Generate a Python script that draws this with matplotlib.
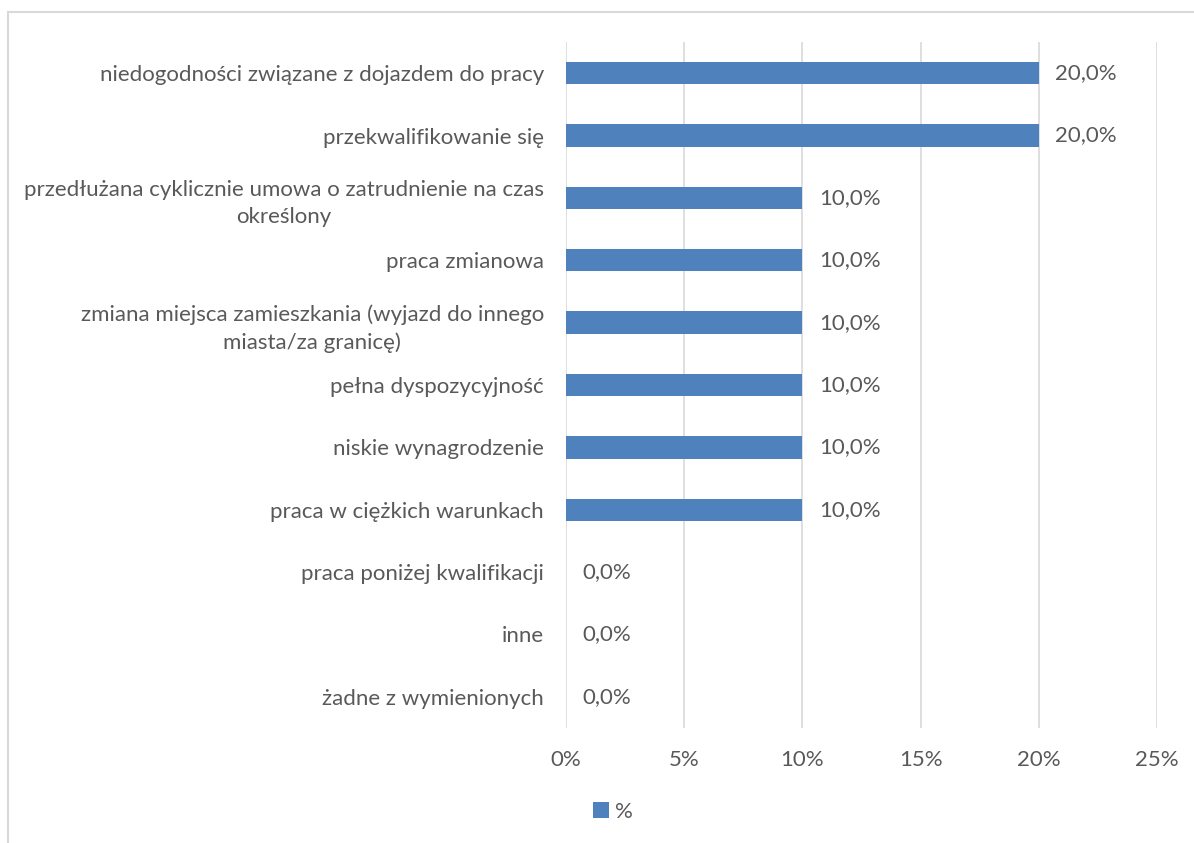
import matplotlib.pyplot as plt
from matplotlib.ticker import FuncFormatter
from matplotlib.patches import Rectangle

categories = [
    "niedogodności związane z dojazdem do pracy",
    "przekwalifikowanie się",
    "przedłużana cyklicznie umowa o zatrudnienie na czas\nokreślony",
    "praca zmianowa",
    "zmiana miejsca zamieszkania (wyjazd do innego\nmiasta/za granicę)",
    "pełna dyspozycyjność",
    "niskie wynagrodzenie",
    "praca w ciężkich warunkach",
    "praca poniżej kwalifikacji",
    "inne",
    "żadne z wymienionych",
]
values = [20.0, 20.0, 10.0, 10.0, 10.0, 10.0, 10.0, 10.0, 0.0, 0.0, 0.0]
xticks = [0, 5, 10, 15, 20, 25]

text_color = "#595959"
bar_color = "#4F81BD"
grid_color = "#D9D9D9"
fs = 16

plt.rcParams['font.family'] = ['Lato', 'DejaVu Sans']

fig = plt.figure(figsize=(11.94, 8.43), dpi=100)
ax = fig.add_axes([566 / 1194, 1 - 728 / 843, (1157 - 566) / 1194, (728 - 42) / 843])

# chart frame (only top and left visible in the reference)
fig.patches.append(Rectangle((8 / 1194, -0.1), 1.2, 1 - 12 / 843 + 0.1,
                             transform=fig.transFigure, fill=False,
                             edgecolor=grid_color, linewidth=1.5))

y = list(range(len(categories)))
ax.barh(y, values, height=0.36, color=bar_color, zorder=3, label="%")

for yi, v in zip(y, values):
    ax.annotate(f"{v:.1f}%".replace(".", ","), (v, yi), xytext=(12, 0),
                textcoords="offset points", va="center", ha="left",
                fontsize=fs, color=text_color)

ax.set_ylim(len(categories) - 0.5, -0.5)
ax.set_xlim(0, 25)
ax.set_xticks(xticks)
ax.xaxis.set_major_formatter(FuncFormatter(lambda v, p: f"{v:.0f}%"))
ax.set_yticks(y)
ax.set_yticklabels(categories, multialignment="center", linespacing=1.45)

ax.grid(axis="x", color=grid_color, linewidth=1.2, zorder=0)
for s in ax.spines.values():
    s.set_visible(False)
ax.tick_params(axis="both", length=0, labelsize=fs, labelcolor=text_color)
ax.tick_params(axis="y", pad=16)
ax.tick_params(axis="x", pad=16)

leg = fig.legend(loc="center", bbox_to_anchor=(613 / 1194, 1 - 812 / 843), frameon=False,
                 fontsize=fs, handlelength=0.7, handleheight=0.7, handletextpad=0.3)
for t in leg.get_texts():
    t.set_color(text_color)

fig.savefig("out.png", dpi=100)
